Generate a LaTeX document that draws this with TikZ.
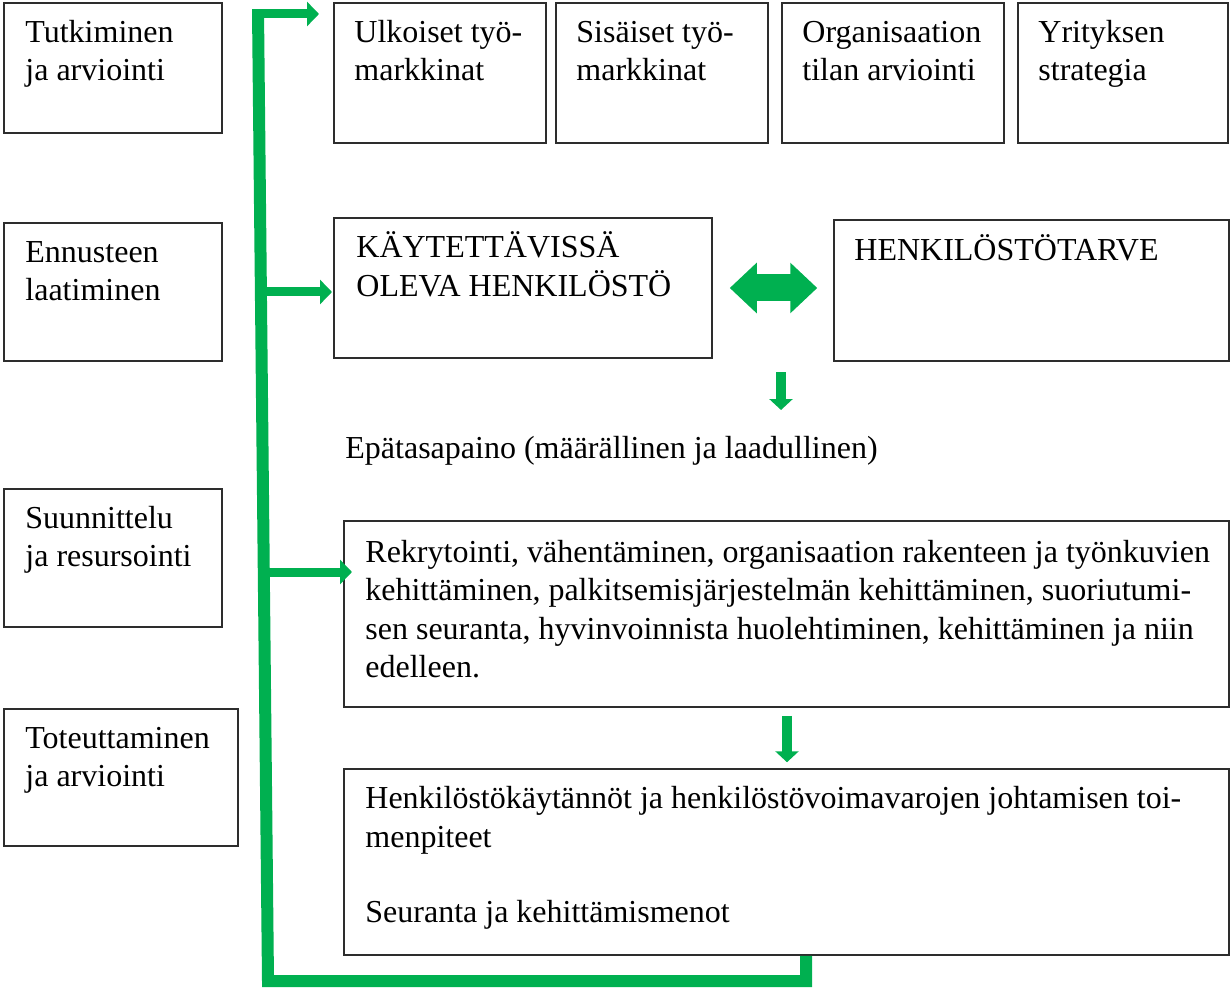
\documentclass[tikz,border=0pt]{standalone}
\usepackage{fontspec}
\setmainfont{Liberation Serif}
\usetikzlibrary{arrows.meta,calc}
\definecolor{grn}{RGB}{0,176,80}
\definecolor{frm}{RGB}{45,45,45}
\begin{document}
\begin{tikzpicture}[x=0.5pt,y=-0.5pt,
  box/.style={draw=frm,line width=0.75pt,rectangle,inner sep=0pt,fill=white},
  txt/.style={anchor=base west,inner sep=0pt,font=\fontsize{16}{19}\selectfont},
  gline/.style={draw=grn,line width=6pt},
  garrow/.style={draw=grn,line width=4.5pt,-{Triangle[length=6pt,width=12pt]}},
  gdown/.style={draw=grn,line width=5pt,-{Triangle[length=5.5pt,width=11.5pt]}},
  gdouble/.style={draw=grn,line width=13.5pt,{Triangle[length=13.5pt,width=24.5pt]}-{Triangle[length=13.5pt,width=24.5pt]}}]
\useasboundingbox (0,0) rectangle (1230,989);
% green bracket (behind boxes)
\coordinate (vt) at (258,10);
\coordinate (vb) at (268,981);
\coordinate (hb) at (806,981);
\coordinate (a1s) at (252,14);
\coordinate (a1e) at (319,14);
\coordinate (a2s) at (258,292);
\coordinate (a2e) at (332,292);
\coordinate (a3s) at (261,572);
\coordinate (a3e) at (352,572);
% left boxes
\node[box,minimum width=109pt,minimum height=65pt] (A1) at (113,68) {};
\node[box,minimum width=109pt,minimum height=69pt] (A2) at (113,292) {};
\node[box,minimum width=109pt,minimum height=69pt] (A3) at (113,558) {};
\node[box,minimum width=117pt,minimum height=68.5pt] (A4) at (121,777.5) {};
% top boxes
\node[box,minimum width=106pt,minimum height=70pt] (B1) at (440,73) {};
\node[box,minimum width=106pt,minimum height=70pt] (B2) at (662,73) {};
\node[box,minimum width=111pt,minimum height=70pt] (B3) at (893,73) {};
\node[box,minimum width=105pt,minimum height=70pt] (B4) at (1123,73) {};
% middle boxes
\node[box,minimum width=189pt,minimum height=70pt] (K) at (523,288) {};
\node[box,minimum width=197.5pt,minimum height=70.5pt] (H) at (1031.5,290.5) {};
\node[box,minimum width=442.5pt,minimum height=93pt] (R) at (786.5,614) {};
\node[box,minimum width=442.5pt,minimum height=93pt] (P) at (786.5,862) {};
% green bracket
\draw[gline] (vt) -- (vb) -- (hb) -- (hb |- P.south);
\draw[garrow] (a1s) -- (a1e);
\draw[garrow] (a2s) -- (a2e);
\draw[garrow] (a3s) -- (a3e);
\draw[gdouble] ($(K.east)+(17,0)$) -- ($(H.west)+(-16,-2.5)$);
\coordinate (d1s) at (781,372);
\coordinate (d1e) at (781,410);
\draw[gdown] (d1s) -- (d1e);
\draw[gdown] ($(R.south)+(0.5,8)$) -- ($(P.north)+(0.5,-6)$);
% texts
\node[txt] (t1a) at (25,43) {Tutkiminen};
\node[txt] (t1b) at (25,81) {ja arviointi};
\node[txt] (t2a) at (25,263) {Ennusteen};
\node[txt] (t2b) at (25,301) {laatiminen};
\node[txt] (t3a) at (25,528) {Suunnittelu};
\node[txt] (t3b) at (25,566) {ja resursointi};
\node[txt] (t4a) at (25,748) {Toteuttaminen};
\node[txt] (t4b) at (25,786) {ja arviointi};
\node[txt] (u1a) at (354,43) {Ulkoiset työ-};
\node[txt] (u1b) at (354,81) {markkinat};
\node[txt] (u2a) at (576,43) {Sisäiset työ-};
\node[txt] (u2b) at (576,81) {markkinat};
\node[txt] (u3a) at (802,43) {Organisaation};
\node[txt] (u3b) at (802,81) {tilan arviointi};
\node[txt] (u4a) at (1038,43) {Yrityksen};
\node[txt] (u4b) at (1038,81) {strategia};
\node[txt] (ka) at (356,258) {KÄYTETTÄVISSÄ};
\node[txt] (kb) at (356,297) {OLEVA HENKILÖSTÖ};
\node[txt] (ha) at (854,261) {HENKILÖSTÖTARVE};
\node[txt] (ep) at (345,458) {Epätasapaino (määrällinen ja laadullinen)};
\node[txt] (ra) at (365,562) {Rekrytointi, vähentäminen, organisaation rakenteen ja työnkuvien};
\node[txt] (rb) at (365,600) {kehittäminen, palkitsemisjärjestelmän kehittäminen, suoriutumi-};
\node[txt] (rc) at (365,639) {sen seuranta, hyvinvoinnista huolehtiminen, kehittäminen ja niin};
\node[txt] (rd) at (365,677) {edelleen.};
\node[txt] (pa) at (365,808) {Henkilöstökäytännöt ja henkilöstövoimavarojen johtamisen toi-};
\node[txt] (pb) at (365,847) {menpiteet};
\node[txt] (pc) at (365,922) {Seuranta ja kehittämismenot};
\end{tikzpicture}
\end{document}
